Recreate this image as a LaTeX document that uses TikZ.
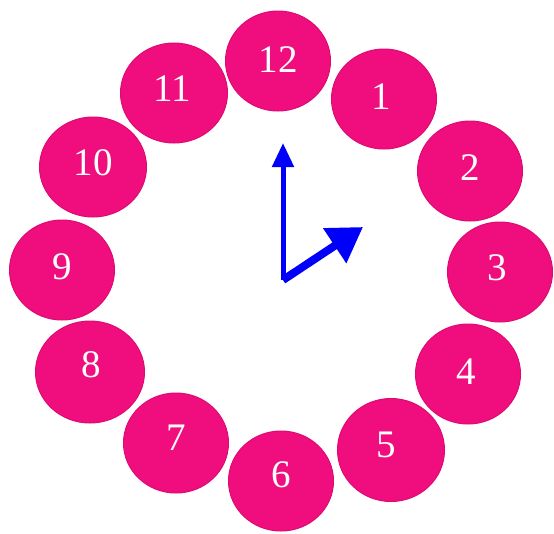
\documentclass[tikz,border=0pt]{standalone}
\usepackage{fontspec}
\setmainfont{Liberation Serif}
\usetikzlibrary{shapes.geometric,arrows.meta}
\definecolor{dialpink}{RGB}{240,14,126}
\definecolor{dialedge}{RGB}{222,10,114}
\definecolor{handblue}{RGB}{0,0,250}
\tikzset{
  dial/.style={ellipse, fill=dialpink, draw=dialedge, line width=1pt,
    minimum width=105pt, minimum height=100pt, inner sep=0pt},
  num/.style={text=white, font=\fontsize{39}{39}\selectfont, inner sep=0pt},
  hand/.style={draw=handblue, line cap=butt}
}
\begin{document}
\begin{tikzpicture}[x=1pt,y=-1pt]
\useasboundingbox (0,0) rectangle (554,533);
\node[dial] (n12) at (278,61) {};
\node[dial] (n1) at (384,99) {};
\node[dial] (n2) at (470,171) {};
\node[dial] (n3) at (500,272) {};
\node[dial] (n4) at (468,374) {};
\node[dial, minimum width=107pt, minimum height=103pt] (n5) at (391,450) {};
\node[dial] (n6) at (281,481) {};
\node[dial] (n7) at (176,443) {};
\node[dial, minimum width=109pt, minimum height=102pt] (n8) at (90,372) {};
\node[dial] (n9) at (62,270) {};
\node[dial, minimum width=107pt] (n10) at (93,167) {};
\node[dial, minimum width=107pt] (n11) at (174,93) {};
\node[num] (t12) at ([yshift=1pt]n12.center) {12};
\node[num] (t1) at ([xshift=-3pt,yshift=2pt]n1.center) {1};
\node[num] (t2) at ([yshift=3pt]n2.center) {2};
\node[num] (t3) at ([xshift=-3pt,yshift=4pt]n3.center) {3};
\node[num] (t4) at ([xshift=-2pt,yshift=2pt]n4.center) {4};
\node[num] (t5) at ([xshift=-5pt,yshift=5pt]n5.center) {5};
\node[num] (t6) at ([yshift=6pt]n6.center) {6};
\node[num] (t7) at ([yshift=5pt]n7.center) {7};
\node[num] (t8) at ([xshift=1pt,yshift=7pt]n8.center) {8};
\node[num] (t9) at ([yshift=3pt]n9.center) {9};
\node[num] (t10) at ([yshift=4pt]n10.center) {10};
\node[num] (t11) at ([xshift=-2pt,yshift=4pt]n11.center) {11};
\coordinate (o) at (283,280);
\coordinate (hmin) at (283,143);
\coordinate (hhour) at (363,227);
\draw[hand, line width=5pt, -{Triangle[length=24pt,width=21pt]}] (o) -- (hmin);
\draw[hand, line width=8pt, -{Triangle[length=34pt,width=40pt]}] (o) -- (hhour);
\end{tikzpicture}
\end{document}
